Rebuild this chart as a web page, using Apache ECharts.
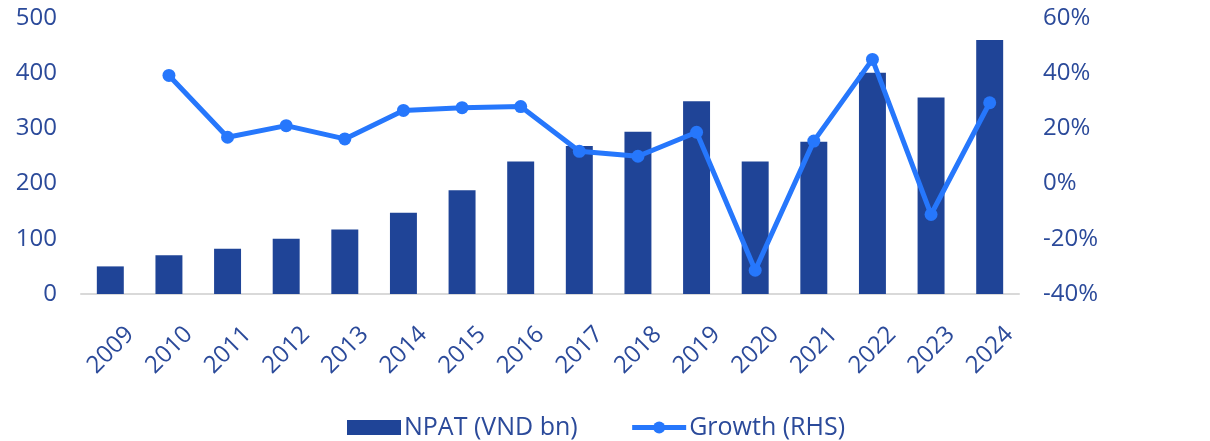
<!DOCTYPE html>
<html>
<head>
<meta charset="utf-8">
<script src="https://cdn.jsdelivr.net/npm/echarts@6/dist/echarts.min.js"></script>
<style>
  html, body { margin: 0; padding: 0; background: #fff; }
  #chart { width: 1210px; height: 441px; }
</style>
</head>
<body>
<div id="chart"></div>
<script>
// data
var years = ['2009', '2010', '2011', '2012', '2013', '2014', '2015', '2016',
             '2017', '2018', '2019', '2020', '2021', '2022', '2023', '2024'];
var npat = [50, 70, 82, 100, 117, 147, 188, 240, 268, 294, 349, 240, 276, 401, 356, 460];
var growth = [null, 39.2, 16.8, 21.0, 16.2, 26.5, 27.5, 27.9,
              11.7, 9.9, 18.6, -31.4, 15.4, 45.0, -11.2, 29.3];

var textColor = '#2B4A9A';
var lineColor = '#2677FC';
var myChart = echarts.init(document.getElementById('chart'));
myChart.setOption({
    animation: false,
    textStyle: { fontFamily: 'Open Sans' },
    grid: { left: 81, right: 191, top: 18, bottom: 147 },
    legend: {
        top: 410,
        left: 342,
        itemGap: 52,
        itemWidth: 54,
        itemHeight: 15,
        textStyle: { color: textColor, fontSize: 25, padding: [0, 0, 0, -2] },
        data: [
            { name: 'NPAT (VND bn)', icon: 'rect' },
            { name: 'Growth (RHS)', lineStyle: { width: 5, color: lineColor } }
        ]
    },
    xAxis: {
        type: 'category',
        data: years,
        axisLine: { lineStyle: { color: '#D9D9D9', width: 2 } },
        axisTick: { show: false },
        axisLabel: {
            color: textColor, fontSize: 24, rotate: 45, margin: 17,
            interval: 0, showMinLabel: true, showMaxLabel: true,
            verticalAlign: 'top', lineHeight: 56
        }
    },
    yAxis: [{
        type: 'value',
        min: 0, max: 500, interval: 100,
        splitLine: { show: false },
        axisLabel: { color: textColor, fontSize: 24, margin: 24 }
    }, {
        type: 'value',
        min: -40, max: 60, interval: 20,
        splitLine: { show: false },
        axisLabel: { color: textColor, fontSize: 24, margin: 24, formatter: '{value}%' }
    }],
    series: [{
        name: 'NPAT (VND bn)',
        type: 'bar',
        data: npat,
        barWidth: '46%',
        itemStyle: { color: '#1F4497' }
    }, {
        name: 'Growth (RHS)',
        type: 'line',
        yAxisIndex: 1,
        data: growth,
        symbol: 'circle',
        symbolSize: 13,
        lineStyle: { color: lineColor, width: 5 },
        itemStyle: { color: lineColor }
    }]
});
</script>
</body>
</html>
